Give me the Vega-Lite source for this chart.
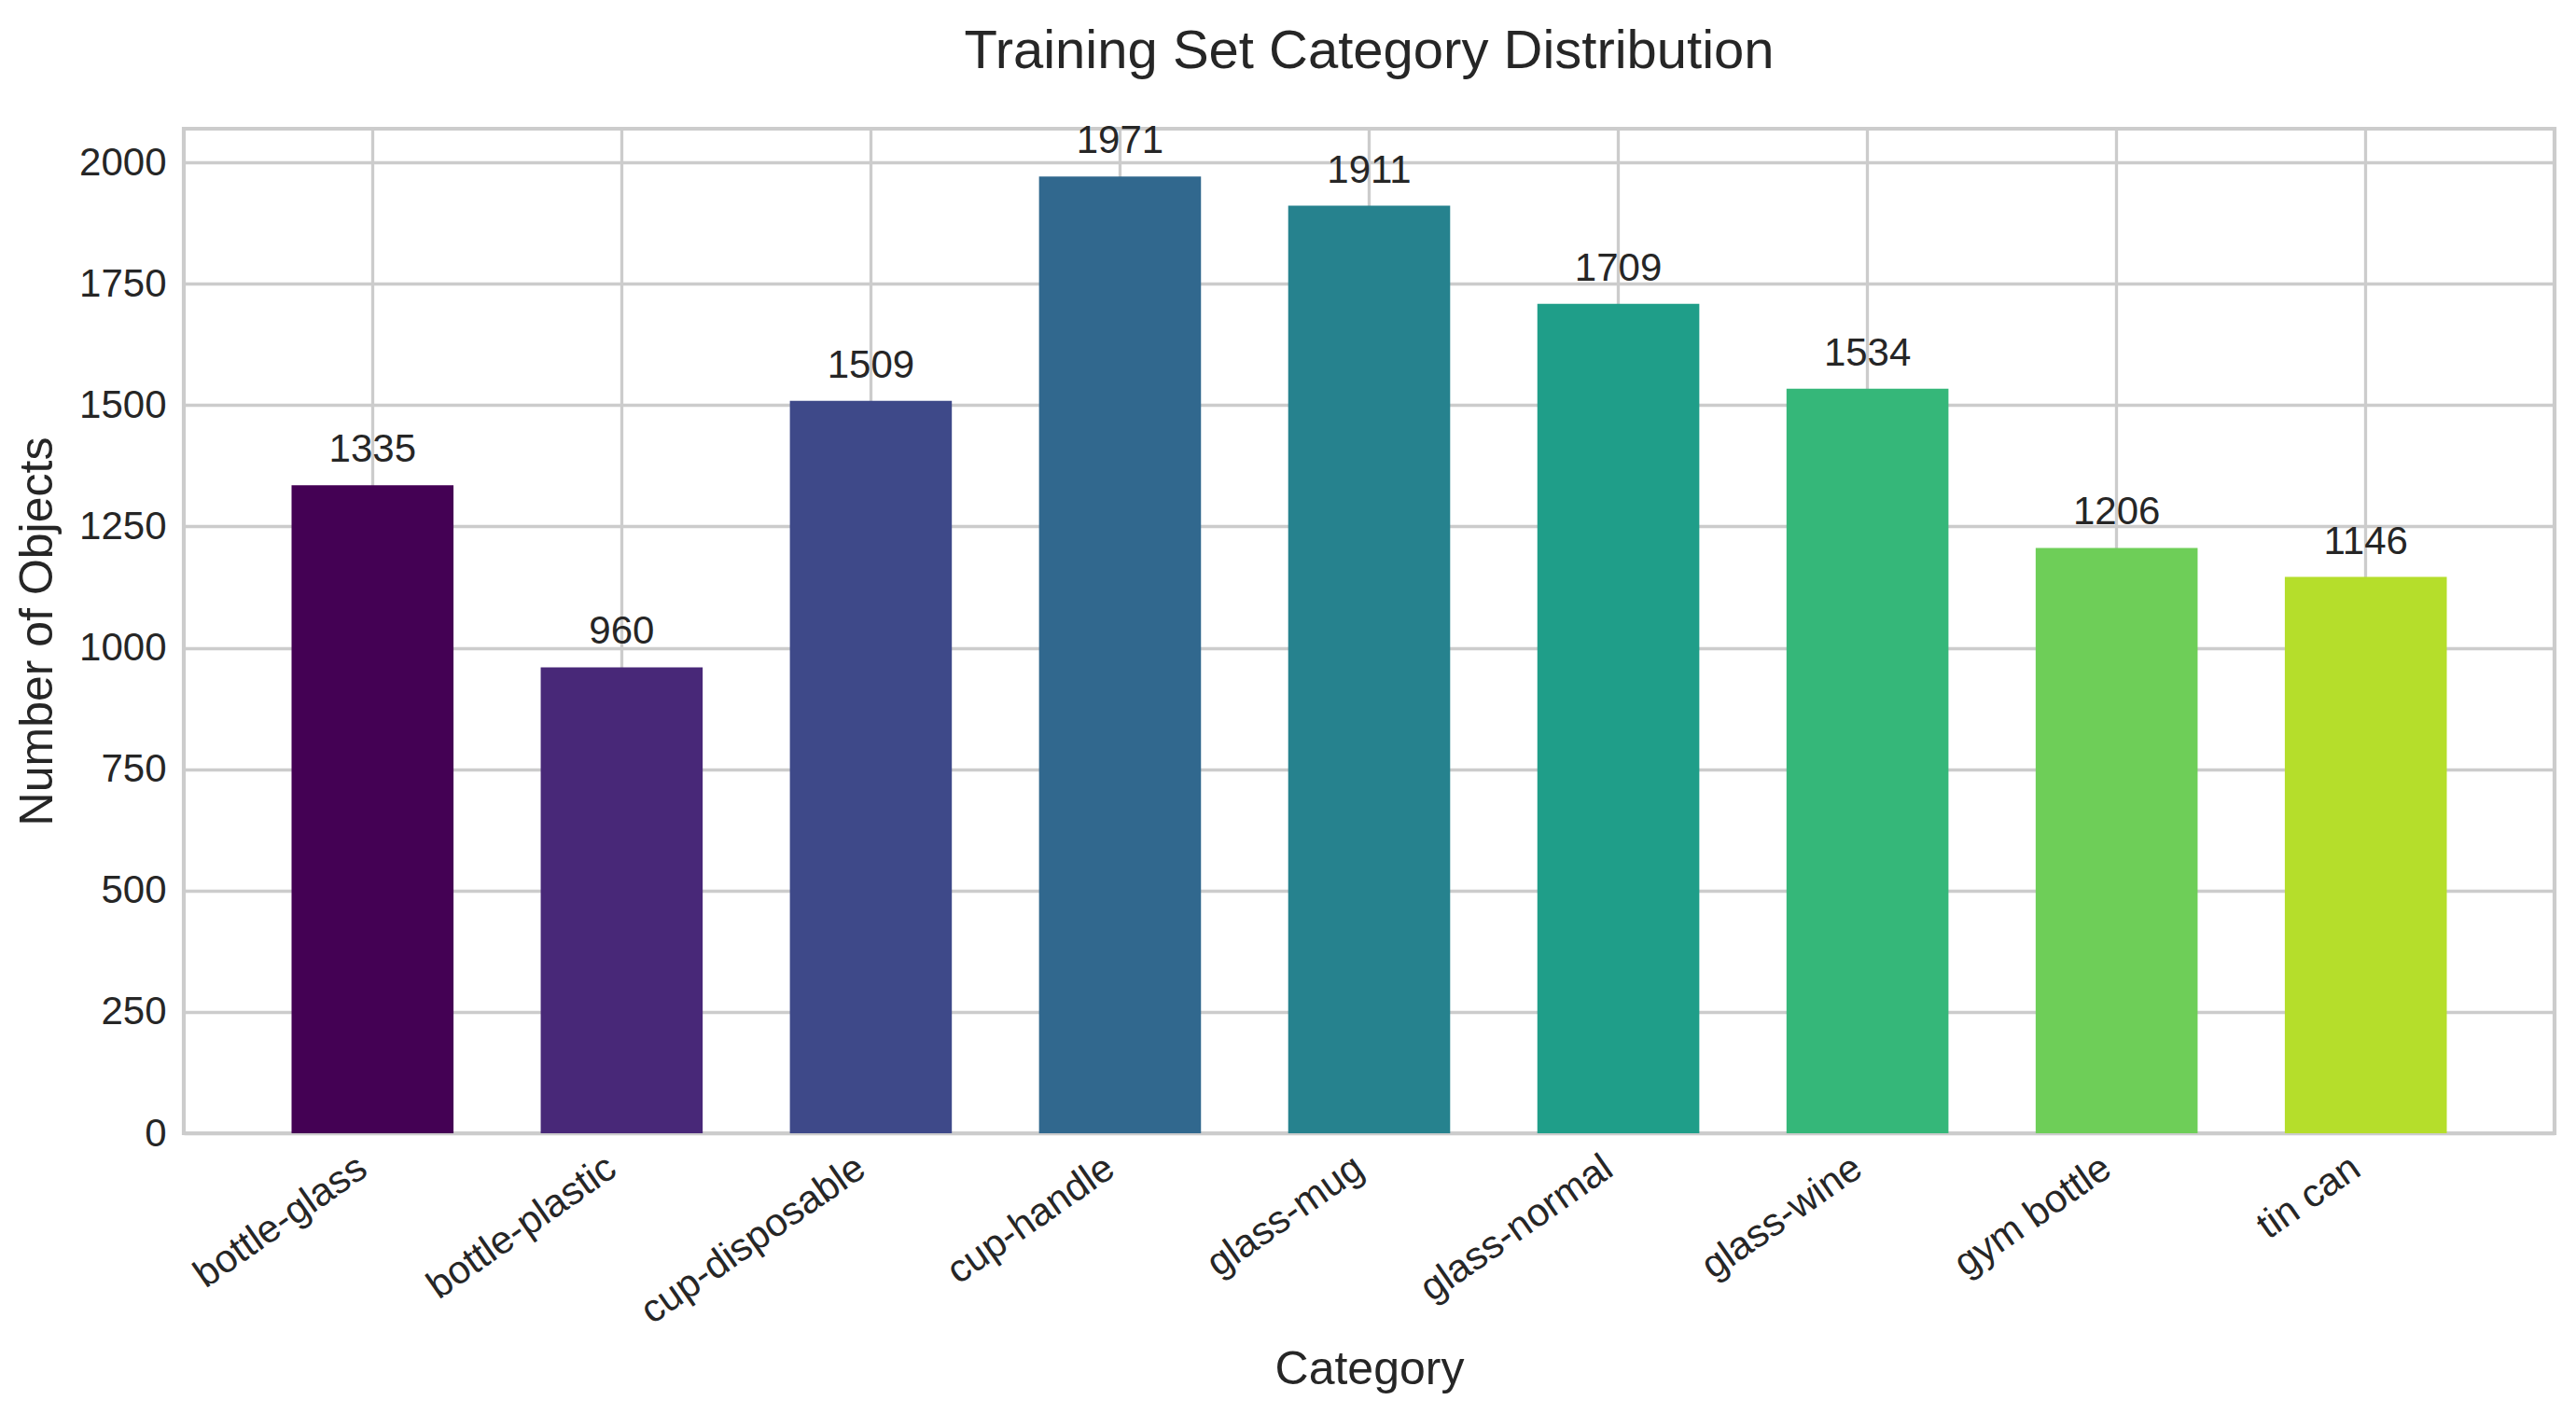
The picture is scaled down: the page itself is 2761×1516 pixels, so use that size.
{
  "$schema": "https://vega.github.io/schema/vega-lite/v6.json",
  "autosize": {"type": "none"},
  "width": 2541,
  "height": 1077,
  "padding": {"left": 197, "top": 138, "right": 23, "bottom": 301},
  "background": "white",
  "config": {
    "font": "Liberation Sans",
    "view": {"stroke": "#cccccc", "strokeWidth": 4.2},
    "axis": {
      "gridColor": "#cccccc",
      "gridWidth": 3.3,
      "domain": false,
      "ticks": false,
      "labelColor": "#262626",
      "titleColor": "#262626",
      "labelFont": "Liberation Sans",
      "titleFont": "Liberation Sans",
      "labelFontSize": 42,
      "titleFontSize": 50,
      "titleFontWeight": "normal",
      "labelLimit": 0
    }
  },
  "title": {
    "text": "Training Set Category Distribution",
    "fontSize": 58,
    "fontWeight": "normal",
    "color": "#262626",
    "font": "Liberation Sans",
    "frame": "group",
    "baseline": "alphabetic",
    "offset": -1
  },
  "data": {
    "values": [
      {"category": "bottle-glass", "count": 1335},
      {"category": "bottle-plastic", "count": 960},
      {"category": "cup-disposable", "count": 1509},
      {"category": "cup-handle", "count": 1971},
      {"category": "glass-mug", "count": 1911},
      {"category": "glass-normal", "count": 1709},
      {"category": "glass-wine", "count": 1534},
      {"category": "gym bottle", "count": 1206},
      {"category": "tin can", "count": 1146}
    ]
  },
  "encoding": {
    "x": {
      "field": "category",
      "type": "nominal",
      "sort": null,
      "scale": {"paddingInner": 0.35, "paddingOuter": 0.4325},
      "axis": {
        "title": "Category",
        "labelAngle": -35,
        "labelAlign": "right",
        "labelBaseline": "top",
        "labelPadding": 16,
        "labelOffset": -22,
        "labelLimit": 0,
        "bandPosition": 0.5,
        "grid": true,
        "titleBaseline": "alphabetic",
        "titleY": 268
      }
    },
    "y": {
      "field": "count",
      "type": "quantitative",
      "scale": {"domain": [0, 2069.55], "nice": false, "zero": true},
      "axis": {
        "title": "Number of Objects",
        "values": [0, 250, 500, 750, 1000, 1250, 1500, 1750, 2000],
        "format": "d",
        "labelPadding": 19,
        "grid": true,
        "titleBaseline": "alphabetic",
        "titleX": -142
      }
    }
  },
  "layer": [
    {
      "mark": {"type": "bar"},
      "encoding": {
        "color": {
          "field": "category",
          "type": "nominal",
          "sort": null,
          "scale": {
            "domain": ["bottle-glass", "bottle-plastic", "cup-disposable", "cup-handle", "glass-mug", "glass-normal", "glass-wine", "gym bottle", "tin can"],
            "range": ["#440154", "#482878", "#3e4989", "#31688e", "#26828e", "#1f9e89", "#35b779", "#6ece58", "#b5de2b"]
          },
          "legend": null
        }
      }
    },
    {
      "mark": {"type": "text", "baseline": "alphabetic", "dy": -25, "fontSize": 42, "color": "#262626", "font": "Liberation Sans"},
      "encoding": {
        "text": {"field": "count", "type": "quantitative", "format": "d"}
      }
    }
  ]
}
